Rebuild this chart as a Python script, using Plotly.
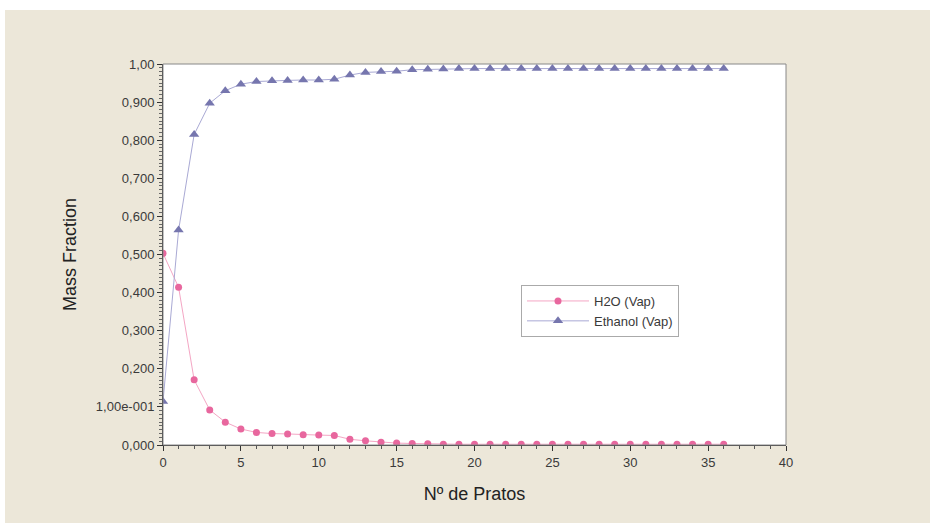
import plotly.graph_objects as go

pratos = list(range(0, 37))
h2o_vap = [0.503, 0.414, 0.171, 0.092, 0.060, 0.042, 0.033, 0.030, 0.029, 0.027,
           0.026, 0.025, 0.015, 0.011, 0.007, 0.005, 0.004, 0.003, 0.002, 0.002,
           0.002, 0.002, 0.002, 0.002, 0.002, 0.002, 0.002, 0.002, 0.002, 0.002,
           0.002, 0.002, 0.002, 0.002, 0.002, 0.002, 0.002]
ethanol_vap = [0.114, 0.564, 0.815, 0.897, 0.930, 0.947, 0.954, 0.956, 0.957, 0.958,
               0.958, 0.960, 0.971, 0.978, 0.980, 0.981, 0.985, 0.986, 0.987, 0.988,
               0.988, 0.988, 0.988, 0.988, 0.988, 0.988, 0.988, 0.988, 0.988, 0.988,
               0.988, 0.988, 0.988, 0.988, 0.988, 0.988, 0.988]

y_tickvals = [0.0, 0.1, 0.2, 0.3, 0.4, 0.5, 0.6, 0.7, 0.8, 0.9, 1.0]
y_ticktext = ["0,000", "1,00e-001", "0,200", "0,300", "0,400", "0,500",
              "0,600", "0,700", "0,800", "0,900", "1,00"]
x_tickvals = [0, 5, 10, 15, 20, 25, 30, 35, 40]

BEIGE = "#ECE7D9"
FONT = "Liberation Sans, Arial, sans-serif"

fig = go.Figure()
fig.add_trace(go.Scatter(
    x=pratos, y=h2o_vap, name="H2O (Vap)", mode="lines+markers",
    line=dict(color="#F4A6C4", width=1),
    marker=dict(symbol="circle", size=7, color="#E8679E"),
))
fig.add_trace(go.Scatter(
    x=pratos, y=ethanol_vap, name="Ethanol (Vap)", mode="lines+markers",
    line=dict(color="#A9A9D4", width=1),
    marker=dict(symbol="triangle-up", size=9, color="#7676AE"),
))

W, H = 930, 523
L, R, T, B = 163, 144, 64, 78
pw, ph = W - L - R, H - T - B

def px_x(v):
    return (v - L) / pw

def px_y(v):
    return 1 - (v - T) / ph

fig.update_layout(
    width=W, height=H,
    margin=dict(l=L, r=R, t=T, b=B, pad=0),
    paper_bgcolor=BEIGE, plot_bgcolor="white",
    font=dict(family=FONT, size=13, color="#3a3a3a"),
    showlegend=True,
    legend=dict(
        x=px_x(521), y=px_y(285), xanchor="left", yanchor="top",
        bgcolor="white", bordercolor="#AAAAAA", borderwidth=1,
        font=dict(family=FONT, size=13, color="#3a3a3a"),
        itemwidth=62, tracegroupgap=0,
    ),
    xaxis=dict(
        range=[0, 40], tickvals=x_tickvals, ticks="outside", ticklen=5,
        tickcolor="#333333", showline=True, linecolor="#333333", linewidth=1,
        showgrid=False, zeroline=False,
        minor=dict(dtick=1, ticks="outside", ticklen=3, tickcolor="#555555"),
        title=dict(text="Nº de Pratos", font=dict(family=FONT, size=18, color="#222222"), standoff=18),
        tickfont=dict(size=13, color="#3a3a3a"),
    ),
    yaxis=dict(
        range=[0, 1.0], tickvals=y_tickvals, ticktext=y_ticktext, ticks="outside", ticklen=5,
        tickcolor="#333333", showline=True, linecolor="#333333", linewidth=1,
        showgrid=False, zeroline=False,
        minor=dict(dtick=0.01, ticks="outside", ticklen=3, tickcolor="#666666"),
        title=dict(text="Mass Fraction", font=dict(family=FONT, size=18, color="#222222"), standoff=14),
        tickfont=dict(size=13, color="#3a3a3a"),
    ),
    shapes=[
        dict(type="rect", xref="paper", yref="paper", x0=0, x1=1, y0=0, y1=1,
             line=dict(color="#888888", width=1), fillcolor="rgba(0,0,0,0)", layer="above"),
        dict(type="rect", xref="paper", yref="paper", x0=px_x(0), x1=px_x(W), y0=px_y(0), y1=px_y(10),
             line=dict(width=0), fillcolor="white"),
        dict(type="rect", xref="paper", yref="paper", x0=px_x(0), x1=px_x(5), y0=px_y(0), y1=px_y(H),
             line=dict(width=0), fillcolor="white"),
    ],
)

fig.write_html("out.html")
